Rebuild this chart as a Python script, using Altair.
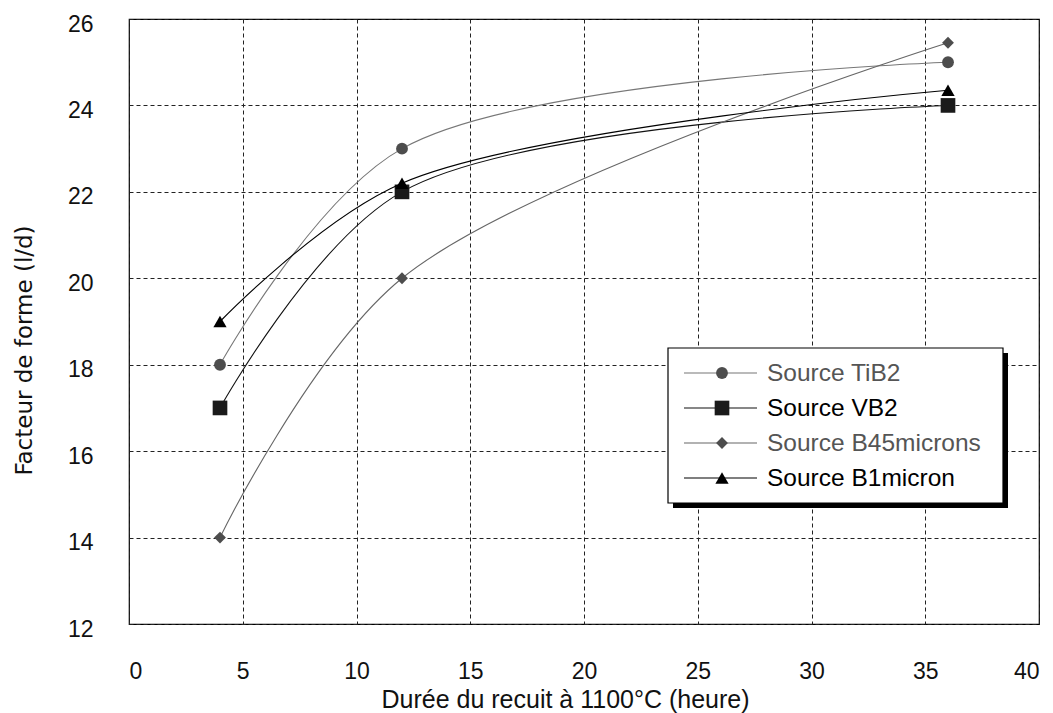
import altair as alt
import pandas as pd

series = ["Source TiB2", "Source VB2", "Source B45microns", "Source B1micron"]
x_hours = [4, 12, 36]
tib2 = [18, 23, 25]
vb2 = [17, 22, 24]
b45 = [14, 20, 25.45]
b1 = [19, 22.2, 24.35]
values = [tib2, vb2, b45, b1]

shapes = ["circle", "square", "diamond", "triangle-up"]
sizes = [140, 215, 140, 175]
marker_colors = ["#4d4d4d", "#1a1a1a", "#4d4d4d", "#000000"]
line_colors = ["#777777", "#111111", "#666666", "#000000"]
text_colors = ["#555555", "#000000", "#555555", "#000000"]

rows = []
for s, vals in zip(series, values):
    for xv, yv in zip(x_hours, vals):
        rows.append({"series": s, "x": xv, "y": yv})
df = pd.DataFrame(rows)

FONT = "Liberation Sans"
W, H = 910, 605

xscale = alt.Scale(domain=[0, 40], nice=False, zero=False)
yscale = alt.Scale(domain=[12, 26], nice=False, zero=False)

axis_style = dict(grid=True, gridDash=[4, 3], gridColor="#222222", gridWidth=1,
                  ticks=False, domain=False, labelFont=FONT,
                  labelFontSize=23, labelColor="#111111",
                  titleColor="#111111", titleFontWeight="normal")

layers = []
for i, s in enumerate(series):
    sub = df[df.series == s]
    base = alt.Chart(sub)
    line = base.mark_line(interpolate="catmull-rom", strokeWidth=1.1, color=line_colors[i]).encode(
        x=alt.X("x:Q", scale=xscale,
                axis=alt.Axis(values=list(range(0, 41, 5)), title="Durée du recuit à 1100°C (heure)",
                              labelPadding=47, labelBaseline="middle",
                              titleFont=FONT, titleFontSize=25,
                              titleX=436, titleY=75, titleBaseline="middle", titleAlign="center",
                              **axis_style)),
        y=alt.Y("y:Q", scale=yscale,
                axis=alt.Axis(values=list(range(12, 27, 2)), title="Facteur de forme (l/d)",
                              labelPadding=36, labelOffset=5,
                              titleFont="DejaVu Sans", titleFontSize=23,
                              titleX=-105, titleY=331, titleAngle=270,
                              titleBaseline="middle", titleAlign="center",
                              **axis_style)),
    )
    pts = base.mark_point(shape=shapes[i], size=sizes[i], filled=True, opacity=1,
                          color=marker_colors[i]).encode(x="x:Q", y="y:Q")
    layers += [line, pts]

# legend box (drawn in plot pixel coordinates)
lx, lx2, ly, ly2 = 539, 874, 329, 484
legdf = pd.DataFrame({"series": series})
shadow = alt.Chart(legdf.head(1)).mark_rect(color="#000000").encode(
    x=alt.value(lx + 5), x2=alt.value(lx2 + 5), y=alt.value(ly + 5), y2=alt.value(ly2 + 5))
box = alt.Chart(legdf.head(1)).mark_rect(fill="white", stroke="black", strokeWidth=1.2).encode(
    x=alt.value(lx), x2=alt.value(lx2), y=alt.value(ly), y2=alt.value(ly2))
layers += [shadow, box]
for i, s in enumerate(series):
    ry = 354 + 35 * i
    one = alt.Chart(legdf[legdf.series == s])
    layers.append(one.mark_rule(color=line_colors[i], strokeWidth=1.1).encode(
        x=alt.value(555), x2=alt.value(628), y=alt.value(ry)))
    layers.append(one.mark_point(shape=shapes[i], size=sizes[i], filled=True, opacity=1,
                                 color=marker_colors[i]).encode(x=alt.value(593), y=alt.value(ry)))
    layers.append(one.mark_text(align="left", baseline="middle", font=FONT, fontSize=24.5,
                                color=text_colors[i]).encode(
        x=alt.value(638), y=alt.value(ry + 1), text="series:N"))

chart = alt.layer(*layers).properties(
    width=W, height=H,
    autosize=alt.AutoSizeParams(type="none"),
    padding={"left": 129, "top": 19, "right": 14, "bottom": 89},
).configure(background="white").configure_view(stroke="black", strokeWidth=1.2)

chart.save("out.html", embed_options={"renderer": "svg", "actions": False})
